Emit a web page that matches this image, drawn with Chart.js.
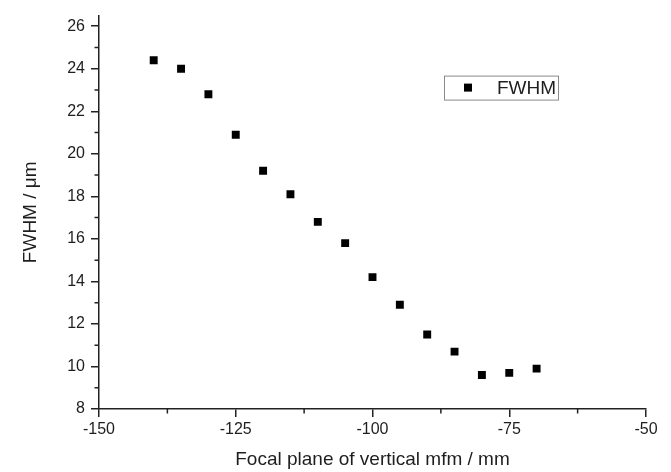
<!DOCTYPE html>
<html>
<head>
<meta charset="utf-8">
<script src="https://cdn.jsdelivr.net/npm/chart.js@4/dist/chart.umd.min.js"></script>
<style>
  html, body { margin: 0; padding: 0; background: #ffffff; }
  #wrap { width: 671px; height: 472px; }
</style>
</head>
<body>
<div id="wrap"><canvas id="c" width="671" height="472"></canvas></div>
<script>
// ---- data ----
const focalPlane = [-140, -135, -130, -125, -120, -115, -110, -105, -100, -95, -90, -85, -80, -75, -70];
const fwhmValues = [24.4, 24.0, 22.8, 20.9, 19.2, 18.1, 16.8, 15.8, 14.2, 12.9, 11.5, 10.7, 9.6, 9.7, 9.9];
const seriesName = 'FWHM';
const xTickValues = [-150, -125, -100, -75, -50];
const xMinorTicks = [-137.5, -112.5, -87.5, -62.5];
const yTickValues = [8, 10, 12, 14, 16, 18, 20, 22, 24, 26];
const yMinorTicks = [9, 11, 13, 15, 17, 19, 21, 23, 25];
const xTitle = 'Focal plane of vertical mfm / mm';
const yTitle = 'FWHM / \u03bcm';

const AXIS = '#222222';
const TEXT = '#1e1e1e';
const FONT = "'Liberation Sans', Arial, sans-serif";

const minorTicksPlugin = {
  id: 'minorTicks',
  afterDraw(chart) {
    const ctx = chart.ctx;
    const xs = chart.scales.x, ys = chart.scales.y;
    ctx.save();
    ctx.strokeStyle = AXIS;
    ctx.lineWidth = 1.5;
    ctx.beginPath();
    xMinorTicks.forEach(v => {
      const px = xs.getPixelForValue(v);
      ctx.moveTo(px, xs.top);
      ctx.lineTo(px, xs.top + 4.5);
    });
    yMinorTicks.forEach(v => {
      const py = ys.getPixelForValue(v);
      ctx.moveTo(ys.right, py);
      ctx.lineTo(ys.right - 4.5, py);
    });
    ctx.stroke();
    ctx.restore();
  }
};

const legendBoxPlugin = {
  id: 'legendBox',
  afterDraw(chart) {
    const ctx = chart.ctx;
    const ca = chart.chartArea;
    const ds = chart.data.datasets[0];
    const bx = ca.left + 345, by = ca.top + 60, bw = 114, bh = 24;
    ctx.save();
    ctx.strokeStyle = '#8a8a8a';
    ctx.lineWidth = 1;
    ctx.strokeRect(bx + 0.5, by + 0.5, bw, bh);
    ctx.fillStyle = ds.backgroundColor;
    ctx.fillRect(bx + 20, by + 8, 8, 8);
    ctx.fillStyle = TEXT;
    ctx.font = "19px " + FONT;
    ctx.textBaseline = 'middle';
    ctx.textAlign = 'left';
    ctx.fillText(ds.label, bx + 53, by + 13);
    ctx.restore();
  }
};

new Chart(document.getElementById('c'), {
  type: 'scatter',
  data: {
    datasets: [{
      label: seriesName,
      data: focalPlane.map((x, i) => ({ x: x, y: fwhmValues[i] })),
      backgroundColor: '#000000',
      borderColor: '#000000',
      borderWidth: 0,
      pointStyle: 'rect',
      pointRadius: 5.6,
      pointHoverRadius: 5.6
    }]
  },
  options: {
    responsive: false,
    devicePixelRatio: 1,
    animation: false,
    events: [],
    layout: { padding: { left: 0, right: 25, top: 7, bottom: 0 } },
    plugins: {
      legend: { display: false },
      tooltip: { enabled: false },
      title: { display: false }
    },
    scales: {
      x: {
        type: 'linear',
        min: -150,
        max: -50,
        afterBuildTicks: s => { s.ticks = xTickValues.map(v => ({ value: v })); },
        afterFit: s => { s.height = 63; },
        border: { display: true, color: AXIS, width: 1.5 },
        grid: { drawOnChartArea: false, drawTicks: true, tickLength: 8, color: AXIS, lineWidth: 1.5 },
        ticks: { color: TEXT, font: { size: 16, family: FONT }, padding: 3, maxRotation: 0 },
        title: { display: true, text: xTitle, color: TEXT, font: { size: 19, family: FONT }, padding: { top: 0, bottom: 1 } }
      },
      y: {
        type: 'linear',
        min: 8,
        max: 26.5,
        afterBuildTicks: s => { s.ticks = yTickValues.map(v => ({ value: v })); },
        afterFit: s => { s.width = 99; },
        border: { display: true, color: AXIS, width: 1.5 },
        grid: { drawOnChartArea: false, drawTicks: true, tickLength: 8, color: AXIS, lineWidth: 1.5 },
        ticks: { color: TEXT, font: { size: 16, family: FONT }, padding: 6 },
        title: { display: true, text: yTitle, color: TEXT, font: { size: 19, family: FONT }, padding: { top: 19, bottom: 0 } }
      }
    }
  },
  plugins: [minorTicksPlugin, legendBoxPlugin]
});
</script>
</body>
</html>
